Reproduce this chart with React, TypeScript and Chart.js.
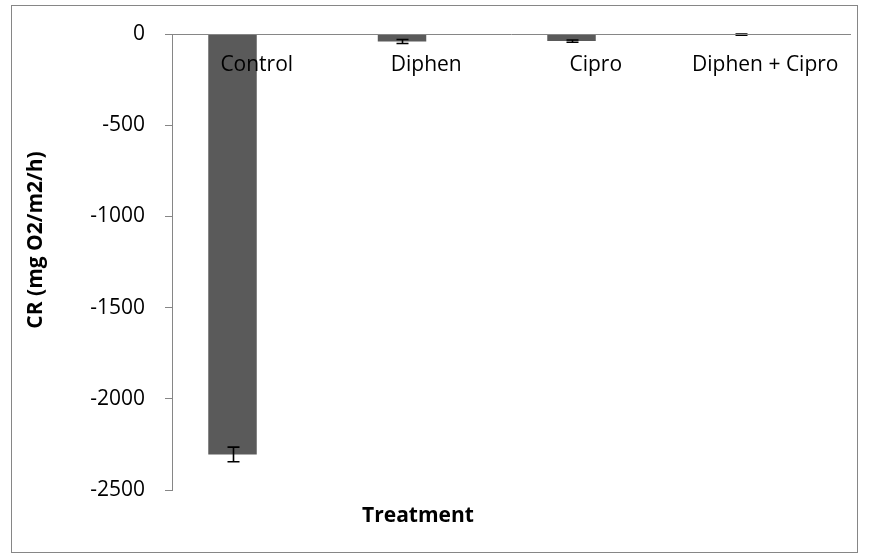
import React, { useEffect, useRef } from "react";
import { Chart, registerables } from "chart.js";

Chart.register(...registerables);

const categories = ["Control", "Diphen", "Cipro", "Diphen + Cipro"];
const crValues = [-2305, -41, -39, -3];
const crErrors = [40, 11, 6, 3];
const emptySeries = [null, null, null, null];
const yTicks = [0, -500, -1000, -1500, -2000, -2500];
const yTitle = "CR (mg O2/m2/h)";
const xTitle = "Treatment";

const FONT = "'Open Sans', 'Noto Sans', sans-serif";
const GREY = "#868686";

const errorBarPlugin = {
  id: "errorBars",
  afterDatasetsDraw(chart: any) {
    const meta = chart.getDatasetMeta(0);
    const y = chart.scales.y;
    const ctx = chart.ctx;
    ctx.save();
    ctx.strokeStyle = "#000000";
    ctx.lineWidth = 1.6;
    meta.data.forEach((bar: any, i: number) => {
      const v = crValues[i];
      const e = crErrors[i];
      const yTop = y.getPixelForValue(v + e);
      const yBot = y.getPixelForValue(v - e);
      const x = Math.round(bar.x) + 0.5;
      const half = 6;
      ctx.beginPath();
      ctx.moveTo(x, yTop);
      ctx.lineTo(x, yBot);
      ctx.moveTo(x - half, yTop);
      ctx.lineTo(x + half, yTop);
      ctx.moveTo(x - half, yBot);
      ctx.lineTo(x + half, yBot);
      ctx.stroke();
    });
    ctx.restore();
  },
};

const titlesPlugin = {
  id: "axisTitles",
  afterDraw(chart: any) {
    const ctx = chart.ctx;
    ctx.save();
    ctx.fillStyle = "#000000";
    ctx.font = `bold 21px ${FONT}`;
    ctx.textAlign = "center";
    ctx.textBaseline = "middle";
    ctx.fillText(xTitle, 418, 516);
    ctx.translate(36, 240);
    ctx.rotate(-Math.PI / 2);
    ctx.fillText(yTitle, 0, 0);
    ctx.restore();
  },
};

export default function App() {
  const ref = useRef<HTMLCanvasElement | null>(null);

  useEffect(() => {
    if (!ref.current) return;
    const chart = new Chart(ref.current, {
      type: "bar",
      data: {
        labels: categories,
        datasets: [
          {
            label: "CR",
            data: crValues,
            backgroundColor: "#5a5a5a",
            borderWidth: 0,
            categoryPercentage: 0.572,
            barPercentage: 1,
          },
          {
            label: "blank",
            data: emptySeries as any,
            backgroundColor: "#5a5a5a",
            categoryPercentage: 0.572,
            barPercentage: 1,
          },
        ],
      },
      options: {
        responsive: false,
        animation: false,
        layout: { padding: { left: 0, top: 34, right: 19, bottom: 69 } },
        plugins: {
          legend: { display: false },
          tooltip: { enabled: false },
          title: { display: false },
        },
        scales: {
          x: {
            position: { y: 0 } as any,
            grid: { display: true, drawOnChartArea: false, drawTicks: false },
            border: { display: true, color: GREY, width: 1, z: 1 } as any,
            ticks: {
              color: "#000000",
              font: { family: FONT, size: 21 },
              padding: 18,
              maxRotation: 0,
              autoSkip: false,
              z: 1,
            } as any,
          },
          y: {
            min: -2500,
            max: 0,
            afterFit: (s: any) => {
              s.width = 172;
            },
            afterBuildTicks: (s: any) => {
              s.ticks = yTicks.map((v) => ({ value: v }));
            },
            grid: {
              display: true,
              drawOnChartArea: false,
              drawTicks: true,
              tickLength: 7,
              color: GREY,
            },
            border: { display: true, color: GREY, width: 1 },
            ticks: {
              color: "#000000",
              font: { family: FONT, size: 21 },
              padding: 20,
              callback: (v: any) => String(v),
            },
          },
        },
      },
      plugins: [errorBarPlugin, titlesPlugin],
    });
    return () => chart.destroy();
  }, []);

  return (
    <div style={{ position: "fixed", left: 0, top: 0, width: 869, height: 559, background: "#fff" }}>
      <div
        style={{
          position: "absolute",
          left: 11,
          top: 5,
          width: 847,
          height: 548,
          border: `1px solid ${GREY}`,
          boxSizing: "border-box",
        }}
      />
      <canvas
        ref={ref}
        width={869}
        height={559}
        style={{ position: "absolute", left: 0, top: 0, width: 869, height: 559 }}
      />
    </div>
  );
}
